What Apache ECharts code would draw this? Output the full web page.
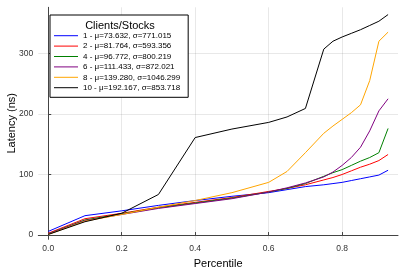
<!DOCTYPE html>
<html>
<head>
<meta charset="utf-8">
<script src="https://cdn.jsdelivr.net/npm/echarts@6/dist/echarts.min.js"></script>
<style>html,body{margin:0;padding:0;background:#fff}#c{width:407px;height:271px}</style>
</head>
<body>
<div id="c"></div>
<script>
var percentiles = [0, 0.1, 0.2, 0.3, 0.4, 0.5, 0.6, 0.65, 0.7, 0.75, 0.775, 0.8, 0.825, 0.85, 0.875, 0.9, 0.925];
var seriesNames = [
  "1 - μ=73.632, σ=771.015",
  "2 - μ=81.764, σ=593.356",
  "4 - μ=96.772, σ=800.219",
  "6 - μ=111.433, σ=872.021",
  "8 - μ=139.280, σ=1046.299",
  "10 - μ=192.167, σ=853.718"
];
var clients1  = [6, 32, 40, 49, 57, 64, 70, 75, 80, 83, 85, 87, 90, 93, 96, 99, 107];
var clients2  = [3, 27, 36, 46, 54, 62, 72, 77, 83, 91, 95, 100, 106, 112, 117, 123, 133];
var clients4  = [2, 25, 35, 45, 53, 61, 71, 77, 85, 97, 103, 108, 115, 122, 128, 136, 176];
var clients6  = [2, 24, 34, 44, 52, 60, 71, 78, 86, 96, 104, 115, 128, 145, 172, 205, 225];
var clients8  = [1, 23, 34, 46, 57, 70, 87, 105, 136, 168, 180, 191, 202, 215, 255, 320, 335];
var clients10 = [1, 22, 36, 67, 161, 175, 186, 195, 209, 307, 320, 327, 333, 339, 346, 353, 364];
var xTicks = [0, 0.2, 0.4, 0.6, 0.8];
var yTicks = [0, 100, 200, 300];
var colors = ['#0000ff', '#ff0000', '#008000', '#800080', '#ffa500', '#000000'];
var allValues = [clients1, clients2, clients4, clients6, clients8, clients10];

var FONT = '"Liberation Sans", Arial, sans-serif';
var chart = echarts.init(document.getElementById('c'), null, {renderer: 'canvas'});
var series = allValues.map(function (vals, i) {
  return {
    name: seriesNames[i],
    type: 'line',
    symbol: 'none',
    data: vals.map(function (v, j) { return [percentiles[j], v]; }),
    lineStyle: {width: 1, color: colors[i]},
    itemStyle: {color: colors[i]},
    animation: false
  };
});
chart.setOption({
  animation: false,
  grid: {left: 38.3, right: 9, top: 7.3, bottom: 31.7, containLabel: false, outerBoundsMode: 'none'},
  xAxis: {
    type: 'value', min: -0.027, max: 0.952,
    name: 'Percentile', nameLocation: 'middle', nameGap: 19, nameMoveOverlap: false,
    nameTextStyle: {fontFamily: FONT, fontSize: 11, color: '#000'},
    axisLine: {show: true, lineStyle: {color: '#444', width: 1}},
    axisTick: {show: true, inside: true, length: 3, customValues: xTicks, lineStyle: {color: '#444'}},
    axisLabel: {customValues: xTicks, formatter: function (v) { return v.toFixed(1); }, fontFamily: FONT, fontSize: 8.5, color: '#333', margin: 5},
    splitLine: {show: true, lineStyle: {color: 'rgba(0,0,0,0.09)', width: 1}}
  },
  yAxis: {
    type: 'value', min: -7, max: 376,
    name: 'Latency (ns)', nameLocation: 'middle', nameGap: 21, nameMoveOverlap: false,
    nameTextStyle: {fontFamily: FONT, fontSize: 11, color: '#000'},
    axisLine: {show: true, lineStyle: {color: '#444', width: 1}},
    axisTick: {show: true, inside: true, length: 3, customValues: yTicks, lineStyle: {color: '#444'}},
    axisLabel: {customValues: yTicks, fontFamily: FONT, fontSize: 8.5, color: '#333', margin: 5},
    splitLine: {show: true, lineStyle: {color: 'rgba(0,0,0,0.09)', width: 1}}
  },
  legend: {
    orient: 'vertical', left: 50, top: 15,
    padding: [15.5, 8, 4.4, 4],
    itemWidth: 24, itemHeight: 8, itemGap: 0,
    backgroundColor: '#fff', borderColor: '#000', borderWidth: 1,
    textStyle: {fontFamily: FONT, fontSize: 8, lineHeight: 10.4, color: '#000'},
    data: seriesNames.map(function (n) { return {name: n, icon: 'path://M0,0H24V1H0Z'}; })
  },
  graphic: [{
    type: 'text', x: 120, y: 26, z: 100,
    style: {text: 'Clients/Stocks', fontFamily: FONT, fontSize: 11, fill: '#000', textAlign: 'center', textVerticalAlign: 'middle'}
  }],
  series: series
});
</script>
</body>
</html>
